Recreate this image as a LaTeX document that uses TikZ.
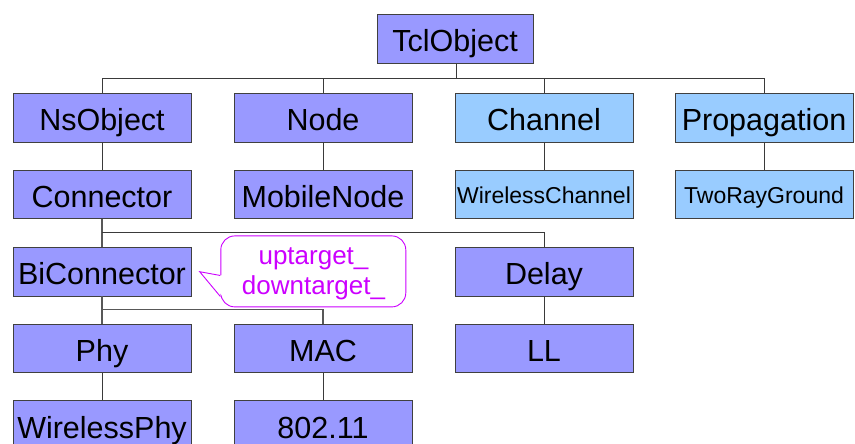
\documentclass[tikz,border=0pt]{standalone}
\usepackage{fontspec}
\setmainfont{Liberation Sans}
\definecolor{clsfill}{HTML}{9999FF}
\definecolor{netfill}{HTML}{99CCFF}
\definecolor{boxline}{HTML}{404040}
\definecolor{wire}{HTML}{3A3A3A}
\definecolor{note}{HTML}{CC00FF}
\tikzset{
  cls/.style={draw=boxline, line width=0.9pt, fill=clsfill, inner sep=0pt,
    minimum width=178, minimum height=48.5,
    font=\fontsize{30.5}{34}\selectfont, text height=26, text depth=0},
  net/.style={cls, fill=netfill},
  small/.style={font=\fontsize{23}{27}\selectfont, text height=17.6, text depth=0},
  link/.style={draw=wire, line width=0.9pt},
  heavylink/.style={draw=wire!85, line width=1.5pt},
  bubble/.style={draw=note, line width=0.9pt, fill=white, rounded corners=14pt,
    minimum width=185, minimum height=71, inner sep=0pt},
}
\begin{document}
\begin{tikzpicture}[x=1pt, y=-1pt]
\useasboundingbox (0,0) rectangle (855,444);

% class boxes
\node[cls, minimum width=156] (tcl) at (455,39) {TclObject};

\node[cls] (ns)   at (102,117.75) {NsObject};
\node[cls] (node) at (323,117.75) {Node};
\node[net] (chan) at (544,117.75) {Channel};
\node[net] (prop) at (764,117.75) {Propagation};

\node[cls] (con)   at (102,194.6) {Connector};
\node[cls] (mnode) at (323,194.6) {MobileNode};
\node[net, small] (wchan) at (544,194.6) {WirelessChannel};
\node[net, small] (trg)   at (764,194.6) {TwoRayGround};

\node[cls] (bicon) at (102,271.7) {BiConnector};
\node[cls] (delay) at (544,271.7) {Delay};

\node[cls] (phy) at (102,348.3) {Phy};
\node[cls] (mac) at (323,348.3) {MAC};
\node[cls] (ll)  at (544,348.3) {LL};

\node[cls] (wphy) at (102,425) {WirelessPhy};
\node[cls] (dot11) at (323,425) {802.11};

% bus levels of the inheritance tree
\coordinate (busTop) at (0,78.5);
\coordinate (busCon) at (0,232.7);
\coordinate (busBi)  at (0,309.3);

% TclObject children
\draw[link] (tcl.south -| 456,0) -- (busTop -| 456,0);
\draw[link] (ns.north) -- (busTop -| ns.north) -- (busTop -| prop.north) -- (prop.north);
\draw[link] (node.north) -- (busTop -| node.north);
\draw[link] (chan.north) -- (busTop -| chan.north);

% single-child chains
\draw[link] (ns.south) -- (con.north);
\draw[link] (node.south) -- (mnode.north);
\draw[link] (chan.south) -- (wchan.north);
\draw[link] (prop.south) -- (trg.north);
\draw[link] (delay.south) -- (ll.north);
\draw[link] (phy.south) -- (wphy.north);
\draw[link] (mac.south) -- (dot11.north);

% Connector children
\draw[heavylink] (con.south) -- (bicon.north);
\draw[link] (busCon -| con.south) -| (delay.north);

% BiConnector children
\draw[heavylink] (bicon.south) -- (phy.north);
\draw[heavylink] (busBi -| bicon.south) -| (mac.north);

% annotation bubble pointing at BiConnector
\node[bubble] (callout) at (313.3,271.4) {};
\coordinate (tip) at (199.7,271.7);
\fill[white] (tip) -- (223,275.5) -- (223,296.5) -- cycle;
\draw[draw=note, line width=0.9pt, line join=miter]
  (callout.west |- 0,275.5) -- (tip) -- (callout.west |- 0,296.5);
\node[text=note, font=\fontsize{26}{30}\selectfont, align=center, anchor=base,
  inner sep=0pt] (calltext) at (313.5,294) {uptarget\_\\downtarget\_};
\end{tikzpicture}
\end{document}
